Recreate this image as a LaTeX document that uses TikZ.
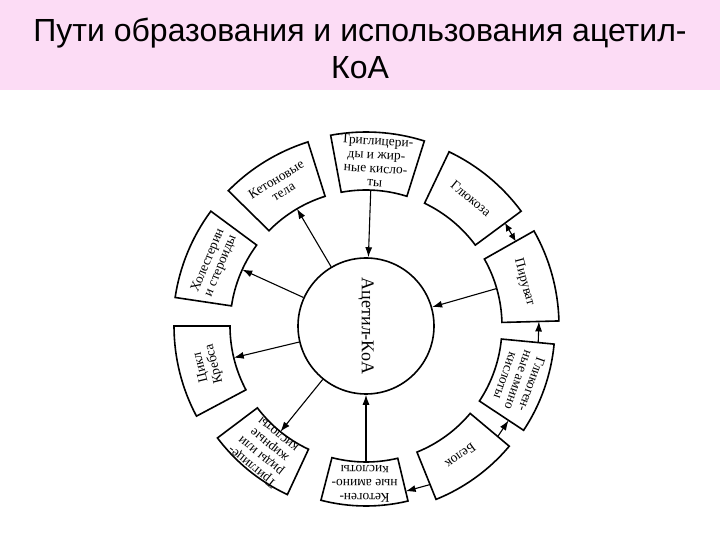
\documentclass[tikz,border=0pt]{standalone}
\usepackage{fontspec}
\setmainfont{Liberation Serif}
\newfontfamily\titlefont{Liberation Sans}
\usepackage{tikz}
\usetikzlibrary{arrows.meta,shapes,calc}
\definecolor{titlepink}{HTML}{FCDCF5}

\tikzset{
  sectorbox/.style={draw, line width=1.6pt},
  sectortext/.style={align=center, inner sep=0pt, font=\fontsize{13.5}{13.8}\selectfont},
  arr/.style={-{Latex[length=10pt,width=7pt]}, line width=1.1pt},
  dblarr/.style={{Latex[length=8pt,width=7pt]}-{Latex[length=8pt,width=7pt]}, line width=1.1pt}
}

\begin{document}
\begin{tikzpicture}[x=1pt,y=1pt]
  \useasboundingbox (0,0) rectangle (720,540);
  % title band
  \fill[titlepink] (0,450) rectangle (720,540);
  \node[align=center, font=\titlefont\fontsize{32}{37}\selectfont] (title) at (360,492)
    {Пути образования и использования ацетил-\\КоА};

  \begin{scope}[shift={(366,214)}]
    % sectors
    \foreach \a/\r in {86.5/194, 50.5/193, 15.5/193, -19.5/189, -54/187,
                       -90.5/180, -129/186, -166/192, 157.5/193, 121.5/193}
      \draw[sectorbox] ({\a-14}:\r) arc[start angle=\a-14, end angle=\a+14, radius=\r pt]
        -- ({\a+14}:136) arc[start angle=\a+14, end angle=\a-14, radius=136pt] -- cycle;

    \node[circle, draw, line width=1.6pt, minimum size=136pt, inner sep=0pt, rotate=-90,
      font=\fontsize{18}{18}\selectfont] (acoa) at (0,0) {Ацетил-КоА};

    \node[sectortext, rotate=-3.5] (trig) at (86.5:165) {Триглицери-\\ды и жир-\\ные кисло-\\ты};
    \node[sectortext, rotate=-39.5] (gluc) at (50.5:165) {Глюкоза};
    \node[sectortext, rotate=-74.5] (pyr) at (15.5:164) {Пируват};
    \node[sectortext, rotate=-109.5] (glyc) at (-19.5:162) {Гликоген-\\ные амино\\кислоты};
    \node[sectortext, rotate=-144] (prot) at (-54:161) {Белок};
    \node[sectortext, rotate=-180.5] (ketaa) at (-90.5:158) {Кетоген-\\ные амино-\\кислоты};
    \node[sectortext, rotate=-219] (tgfa) at (-129:161) {Триглице-\\риды или\\жирные\\кислоты};
    \node[sectortext, rotate=-256] (krebs) at (-166:163) {Цикл\\Кребса};
    \node[sectortext, rotate=67.5] (chol) at (157.5:164) {Холестерин\\и стероиды};
    \node[sectortext, rotate=31.5] (keton) at (121.5:165) {Кетоновые\\тела};

    % inner ends of the sectors
    \coordinate (trig-in) at (88:136);
    \coordinate (pyr-in) at (16:136);
    \coordinate (ketaa-in) at (-90:136);
    \coordinate (keton-in) at (120.5:136);
    \coordinate (chol-in) at (155.5:136);
    \coordinate (krebs-in) at (-166.5:136);
    \coordinate (tgfa-in) at (-129:136);
    % side ends between neighbours
    \coordinate (pyr-up) at (29.5:172);
    \coordinate (gluc-lo) at (36.5:173);
    \coordinate (glyc-up) at (-5.5:173);
    \coordinate (pyr-lo) at (1.5:173);
    \coordinate (prot-up) at (-40:172);
    \coordinate (glyc-lo) at (-33.5:171);
    \coordinate (prot-lo) at (-68:171);
    \coordinate (ketaa-up) at (-76.5:170);

    \draw[arr] (trig-in) -- (acoa);
    \draw[arr] (pyr-in) -- (acoa);
    \draw[arr] (ketaa-in) -- (acoa);
    \draw[arr] (acoa) -- (keton-in);
    \draw[arr] (acoa) -- (chol-in);
    \draw[arr] (acoa) -- (krebs-in);
    \draw[arr] (acoa) -- (tgfa-in);
    \draw[dblarr] (pyr-up) -- (gluc-lo);
    \draw[arr] (glyc-up) -- (pyr-lo);
    \draw[arr] (prot-up) -- (glyc-lo);
    \draw[arr] (prot-lo) -- (ketaa-up);
  \end{scope}
\end{tikzpicture}
\end{document}
